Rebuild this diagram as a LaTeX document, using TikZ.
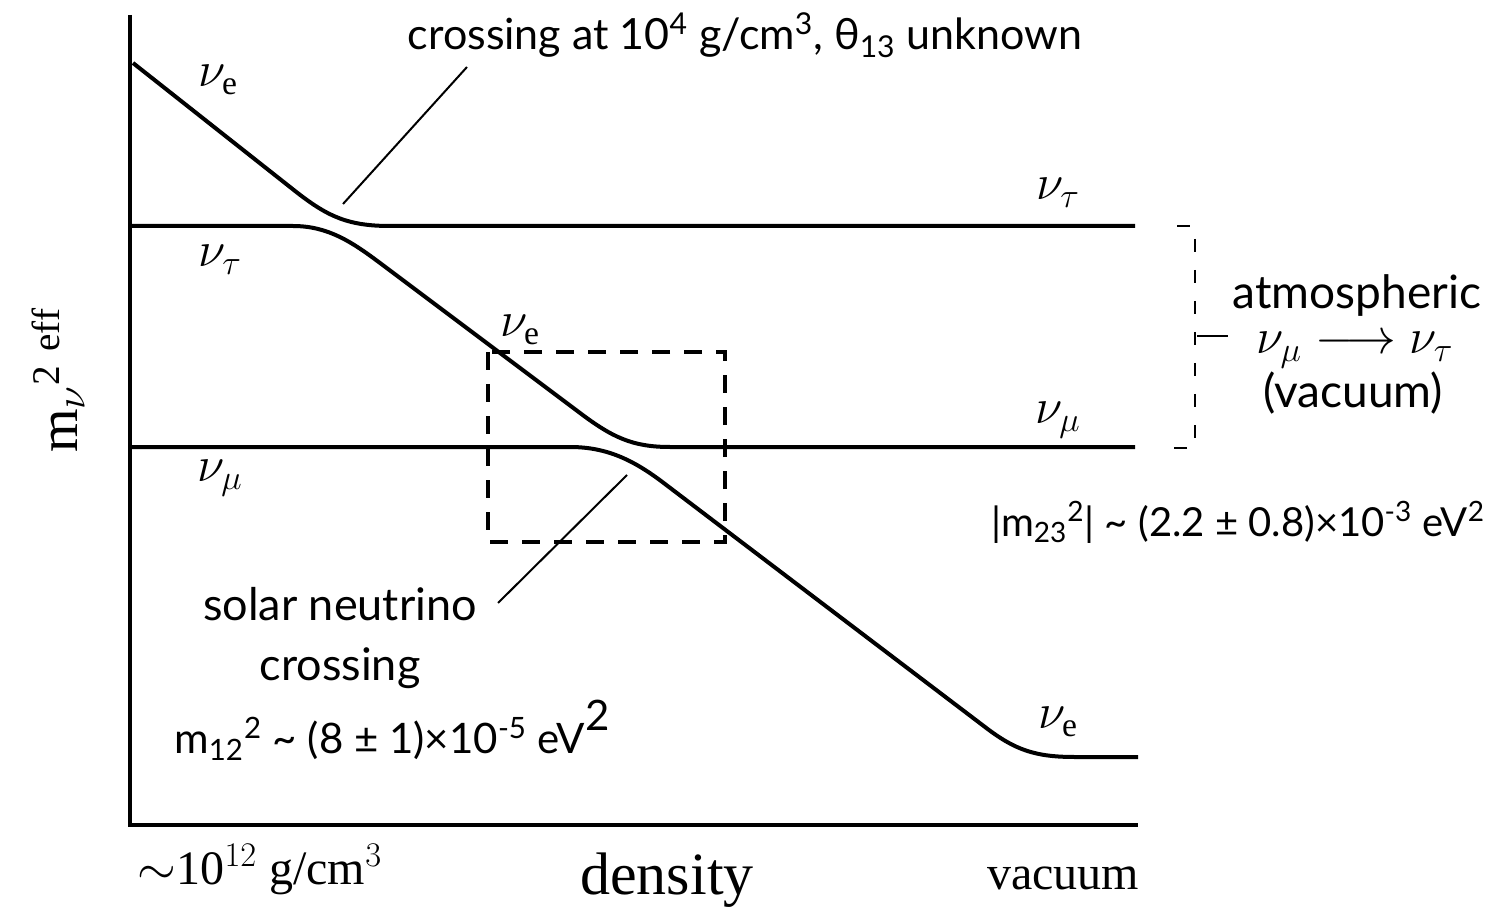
\documentclass[tikz,border=0pt]{standalone}
\usepackage{fontspec}
\setmainfont{Liberation Serif}
\newfontfamily\gill{Lato}
\begin{document}
\begin{tikzpicture}[x=0.5pt,y=-0.5pt,
  axis/.style={line width=2.2pt},
  level/.style={line width=2pt,line join=round},
  leader/.style={line width=1pt},
  zoombox/.style={line width=2pt,dash pattern=on 9pt off 7pt},
  bracket/.style={line width=0.8pt,dash pattern=on 6.5pt off 9pt},
  nu/.style={font=\fontsize{24}{28}\selectfont},
  sans/.style={font=\gill\fontsize{21.5}{26}\selectfont,align=center},
  atmo/.style={font=\gill\fontsize{23}{28}\selectfont,inner sep=0pt},
  tms/.style={font=\fontsize{26}{30}\selectfont}]
\useasboundingbox (0,0) rectangle (1498,914);
% axes
\draw[axis] (130,15) -- (130,825) -- (1138,825);
% levels
\draw[level] (133,63) -- (290,187) .. controls (325,215) and (345,226) .. (390,226) -- (1135,226);
\draw[level] (130,226) -- (293,226) .. controls (328,226) and (352,242) .. (380,263) -- (580,413) .. controls (612,437) and (632,447) .. (670,447) -- (1135,447);
\draw[level] (130,447) -- (570,447) .. controls (608,447) and (635,461) .. (665,484) -- (985,727) .. controls (1015,750) and (1035,757) .. (1075,757) -- (1138,757);
% dashed zoom box
\draw[zoombox] (488,352) rectangle (725,542);
% bracket
\draw[bracket] (1177,226) -- (1195,226) -- (1195,448) -- (1170,448);
\draw[line width=0.8pt] (1197,336) -- (1228,336);
% level labels
\node[nu] (nuea) at (218,80) {$\nu_{\mathrm{e}}$};
\node[nu] (nuta) at (220,260) {$\nu_{\tau}$};
\node[nu] (nutb) at (1058,193) {$\nu_{\tau}$};
\node[nu] (nueb) at (520,330) {$\nu_{\mathrm{e}}$};
\node[nu] (numb) at (1058,420) {$\nu_{\mu}$};
\node[nu] (numa) at (220,478) {$\nu_{\mu}$};
\node[nu] (nuec) at (1058,722) {$\nu_{\mathrm{e}}$};
% annotations
\node[sans] (top) at (745,35) {crossing at 10\textsuperscript{4} g/cm\textsuperscript{3}, θ\textsubscript{13} unknown};
\coordinate (topA) at (343,204);
\coordinate (topB) at (467,67);
\draw[leader] (topA) -- (topB);
\node[sans,font=\gill\fontsize{22.5}{30}\selectfont] (solar) at (340,638) {solar neutrino\\crossing};
\coordinate (solA) at (627,475);
\coordinate (solB) at (498,603);
\draw[leader] (solA) -- (solB);
\node[sans,font=\gill\fontsize{21}{26}\selectfont] (m12) at (392,730) {m\textsubscript{12}\textsuperscript{2} \textasciitilde{} (8 ± 1)×10\textsuperscript{-5} eV\raisebox{0.55em}{2}};
\node[sans,font=\gill\fontsize{20}{25}\selectfont] (m23) at (1238,522) {|m\textsubscript{23}\textsuperscript{2}| \textasciitilde{} (2.2 ± 0.8)×10\textsuperscript{-3} eV\textsuperscript{2}};
\node[atmo] (atm1) at (1357,296) {atmospheric};
\node[font=\fontsize{27}{30}\selectfont,inner sep=0pt] (atm2) at (1355,350) {$\nu_\mu \longrightarrow \nu_\tau$};
\node[atmo] (atm3) at (1353,393) {(vacuum)};
% axis labels
\node[tms,rotate=90,font=\fontsize{28}{32}\selectfont] (ylab) at (58,380) {m$_{\nu}$$^{\mathrm{2\ eff}}$};
\node[tms,font=\fontsize{24}{28}\selectfont] (xl) at (260,870) {$\sim$10$^{12}$ g/cm$^{3}$};
\node[tms,font=\fontsize{30}{34}\selectfont] (xm) at (667,880) {density};
\node[tms,font=\fontsize{24}{28}\selectfont] (xr) at (1063,878) {vacuum};
\end{tikzpicture}
\end{document}
